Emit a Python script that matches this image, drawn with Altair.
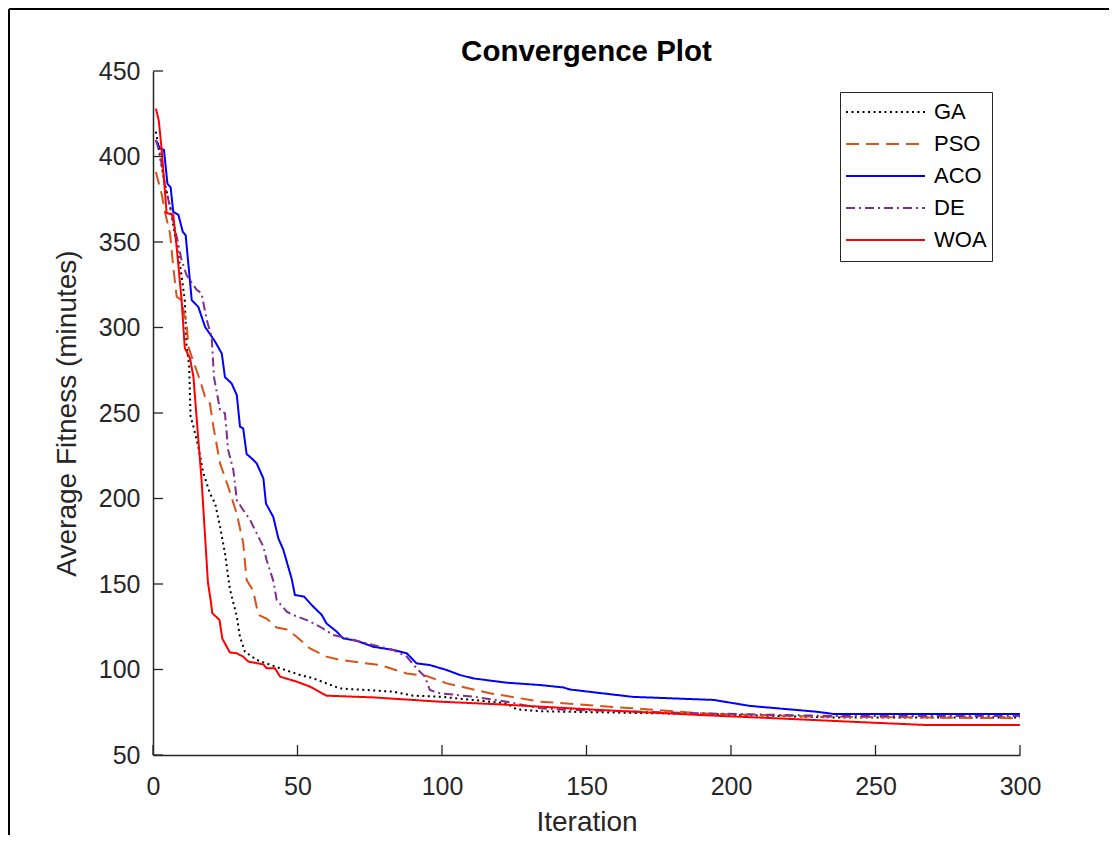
import altair as alt
import pandas as pd

names = ["GA", "PSO", "ACO", "DE", "WOA"]
colors = ["#000000", "#D95319", "#0000FF", "#7E2F8E", "#FF0000"]
dashes = [[2, 3.5], [13, 7], [1, 0], [9, 4, 2, 4], [1, 0]]

x_ticks = [0, 50, 100, 150, 200, 250, 300]
y_ticks = [50, 100, 150, 200, 250, 300, 350, 400, 450]
title_text = ["Convergence Plot"]

ga_x = [1, 2.4, 4, 6, 8, 9.5, 11, 11.6, 12.5, 13, 14, 15.7, 17.4, 19.7, 21.5, 23.2, 24.9,
        26.6, 29, 30.1, 31.8, 35.9, 44, 50.9, 55.5, 60, 64.7, 73.9, 83.2, 90, 99.3, 110.8,
        122.4, 125.8, 134, 143, 189, 235, 300]
ga_y = [414.5, 400, 385, 370, 350, 335, 316, 289, 278, 248, 242, 230, 215, 203, 197, 183.5, 168,
        147, 131, 119, 110.4, 105.6, 100.7, 96.8, 94.8, 91.9, 88.9, 88, 87, 84.7, 84.1, 82.2,
        80.2, 76.7, 75.6, 75.3, 74, 72, 72]

pso_x = [1, 3, 4.2, 5.9, 7, 8.2, 9.9, 11, 11.6, 12.2, 13.4, 16.3, 18, 19.7, 20.9, 23.2, 26,
         29, 31.2, 32.4, 34.7, 36.4, 39.3, 42.8, 46.3, 49.7, 54.3, 60, 64.7, 78.5, 87.8, 94.7,
         101.6, 116.6, 134, 166, 189, 229.7, 300]
pso_y = [391, 378, 367, 355, 335.5, 318, 316, 306, 304, 289, 283, 269, 259.5, 255.6, 242, 220.5, 207,
         191, 174, 152.3, 146, 132, 129.8, 124.5, 123.4, 119.2, 112.3, 107.5, 105.6, 102.6, 97.7, 96.2,
         91.9, 86.1, 81.2, 77.3, 74.4, 72.4, 71.5]

aco_x = [1, 2.4, 3.8, 5, 6.1, 7, 8.8, 10.3, 11.3, 13.4, 15.7, 18, 21.5, 23.8, 24.9, 27.2, 29,
         30.1, 31.2, 32.4, 34.2, 35.9, 38.2, 39.1, 41.6, 43.4, 45.1, 46.8, 48, 49.1, 52.3, 54.9,
         58.4, 60, 63.6, 65.8, 70.5, 76.2, 83.2, 87.8, 91.2, 95.8, 101.6, 106.2, 110.8, 122.4,
         134, 142, 144.3, 166, 194, 206.6, 229.7, 235.4, 300]
aco_y = [409.6, 404.8, 403.8, 384, 382, 367.7, 365.8, 356, 354, 316, 312, 300.4, 291.7, 284.8, 271, 267.3, 260.5,
         242, 241, 226, 223.4, 220.5, 211.7, 197, 189.3, 176.6, 170, 160, 153, 143.6, 142.6, 137.7,
         131.9, 127, 122.1, 118.2, 116.8, 113.3, 111.4, 109.5, 103.6, 102.6, 99.7, 96.8, 94.8, 92.3,
         90.9, 89.5, 88.3, 84, 82.2, 78.7, 75.3, 74, 74]

de_x = [1, 2.4, 4.2, 5.9, 8.2, 9.9, 11.6, 15.1, 16.8, 18.6, 20.3, 21.1, 23.2, 24.9, 26, 27.8, 29,
        31.2, 33.6, 35.9, 38.2, 39.3, 41.6, 42.8, 46.3, 48.5, 53.2, 57.8, 62.4, 69.3, 76.2, 83.2,
        87.8, 91.2, 94.1, 95.8, 99.3, 110.8, 122.4, 134, 143, 189, 235.4, 300]
de_y = [409.6, 401.8, 382.3, 370.6, 353, 339.5, 330.7, 322, 320, 304.4, 294.5, 271, 251.8, 249.8, 228.4, 216.7, 199,
        193.3, 187.4, 179.6, 171.8, 164, 152, 140.6, 133.8, 131.9, 128.9, 125, 120.2, 117.3, 114.3, 111.4,
        107.5, 100.7, 95.8, 88, 86.1, 84.1, 81.2, 77.3, 76.5, 74.4, 72.8, 72.8]

woa_x = [1, 2, 3, 4.7, 7, 8.2, 9.9, 11, 12.8, 14, 15.7, 16.8, 19, 20, 20.5, 23, 24, 26.6, 29,
         31.2, 33, 38.2, 39.3, 42.2, 44, 49.7, 54.3, 60, 76, 99, 120, 155, 189, 215, 241, 268, 300]
woa_y = [428, 421, 404, 367, 366, 347, 316, 288, 282, 271, 234, 211, 151, 140, 133, 129, 118, 110, 109.5,
         107.5, 104.6, 103, 100.7, 100.7, 95.8, 92.9, 90, 84.7, 83.7, 81.2, 79.6, 76.3, 73.4, 71.5, 69.5, 67.5, 67.5]

series = [("GA", ga_x, ga_y), ("PSO", pso_x, pso_y), ("ACO", aco_x, aco_y),
          ("DE", de_x, de_y), ("WOA", woa_x, woa_y)]
rows = []
for name, xs_, ys_ in series:
    for xv, yv in zip(xs_, ys_):
        rows.append({"Algorithm": name, "Iteration": xv, "Fitness": yv})
df = pd.DataFrame(rows)

W, H = 867, 684
FONT = "Liberation Sans"
AX = "#262626"

xscale = alt.Scale(domain=[0, 300], nice=False, zero=False)
yscale = alt.Scale(domain=[50, 450], nice=False, zero=False)
x_axis = alt.Axis(values=x_ticks, title="Iteration", labelPadding=19, titlePadding=9, labelFlush=False)
y_axis = alt.Axis(values=y_ticks, title="Average Fitness (minutes)", labelPadding=13, titlePadding=17,
                  labelFlush=False)

leg = alt.Legend(title=None, orient="none", legendX=687, legendY=21,
                 symbolType="stroke", symbolSize=6241, symbolStrokeWidth=2,
                 labelFontSize=22, labelFont=FONT, labelColor="#000000", labelOffset=8,
                 padding=5, rowPadding=1, clipHeight=30.2,
                 strokeColor=AX, fillColor="white")

lines = alt.Chart(df).mark_line(strokeWidth=2, clip=True).encode(
    x=alt.X("Iteration:Q", scale=xscale, axis=x_axis),
    y=alt.Y("Fitness:Q", scale=yscale, axis=y_axis),
    color=alt.Color("Algorithm:N", scale=alt.Scale(domain=names, range=colors), legend=leg),
    strokeDash=alt.StrokeDash("Algorithm:N", scale=alt.Scale(domain=names, range=dashes), legend=leg),
)

xt = alt.Chart(pd.DataFrame({"Iteration": x_ticks})).mark_rule(color=AX, strokeWidth=1.3).encode(
    x=alt.X("Iteration:Q", scale=xscale, axis=x_axis), y=alt.value(H), y2=alt.value(H - 10))
yt = alt.Chart(pd.DataFrame({"Fitness": y_ticks})).mark_rule(color=AX, strokeWidth=1.3).encode(
    y=alt.Y("Fitness:Q", scale=yscale, axis=y_axis), x=alt.value(0), x2=alt.value(10))

frame = alt.Chart(pd.DataFrame({"k": [0]})).mark_rule(color="black", strokeWidth=2)
left = frame.encode(x=alt.value(-144), y=alt.value(-62), y2=alt.value(H + 80))
top = frame.encode(y=alt.value(-62), x=alt.value(-144), x2=alt.value(W + 89))

title = alt.Chart(pd.DataFrame({"text": title_text})).mark_text(
    font=FONT, fontSize=29.5, fontWeight="bold", color="#000000", align="center", baseline="alphabetic"
).encode(text="text:N", x=alt.value(W / 2), y=alt.value(-10.5))

chart = alt.layer(lines, xt, yt, left, top, title).properties(
    width=W, height=H,
    padding={"left": 145, "top": 63, "right": 89, "bottom": 80},
    autosize=alt.AutoSizeParams(type="none"),
).configure_view(stroke=None).configure_axis(
    labelFont=FONT, labelFontSize=25, labelColor=AX,
    domainColor=AX, domainWidth=1.5, ticks=False, tickSize=0, grid=False,
    titleFont=FONT, titleFontSize=28, titleFontWeight="normal", titleColor=AX,
)

chart.save("out.html", embed_options={"renderer": "svg", "actions": False})
